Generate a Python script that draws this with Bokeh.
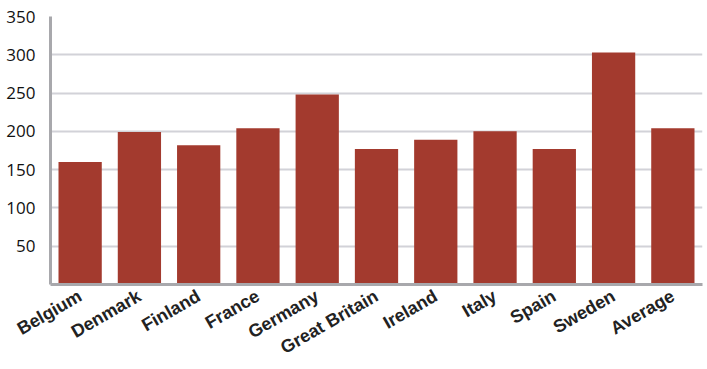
import math
from bokeh.plotting import figure
from bokeh.models import FixedTicker, ColumnDataSource
from bokeh.embed import file_html
from bokeh.resources import INLINE

countries = ["Belgium", "Denmark", "Finland", "France", "Germany", "Great Britain",
             "Ireland", "Italy", "Spain", "Sweden", "Average"]
values = [160, 199, 182, 204, 248, 177, 189, 200, 177, 303, 204]
y_ticks = [50, 100, 150, 200, 250, 300, 350]

src = ColumnDataSource(dict(c=countries, v=values))

p = figure(x_range=countries, y_range=(0, 350), width=707, height=369,
           output_backend="svg", toolbar_location=None,
           min_border_left=50, min_border_right=5, min_border_top=16, min_border_bottom=84)
p.outline_line_color = None
p.background_fill_color = "white"
p.border_fill_color = "white"

p.vbar(x="c", top="v", width=0.73, source=src, color="#A33A2E", line_color=None)

p.x_range.range_padding = 0
p.xgrid.grid_line_color = None
p.ygrid.grid_line_color = "#d2d2d8"
p.ygrid.grid_line_width = 2
p.ygrid.level = "underlay"

p.yaxis.ticker = FixedTicker(ticks=y_ticks)
p.yaxis.axis_line_color = "#a8a8ac"
p.yaxis.axis_line_width = 3
p.yaxis.major_tick_line_color = None
p.yaxis.minor_tick_line_color = None
p.yaxis.major_label_text_font = "Open Sans"
p.yaxis.major_label_text_font_size = "17px"
p.yaxis.major_label_text_color = "#111111"
p.yaxis.major_label_standoff = 9

p.xaxis.axis_line_color = "#a8a8ac"
p.xaxis.axis_line_width = 3
p.xaxis.major_tick_line_color = None
p.xaxis.minor_tick_line_color = None
p.xaxis.major_label_orientation = math.pi / 6
p.xaxis.major_label_text_font = "Liberation Sans"
p.xaxis.major_label_text_font_style = "bold"
p.xaxis.major_label_text_font_size = "18px"
p.xaxis.major_label_text_color = "#222222"
p.xaxis.major_label_standoff = 4

open("out.html", "w").write(file_html(p, INLINE))
